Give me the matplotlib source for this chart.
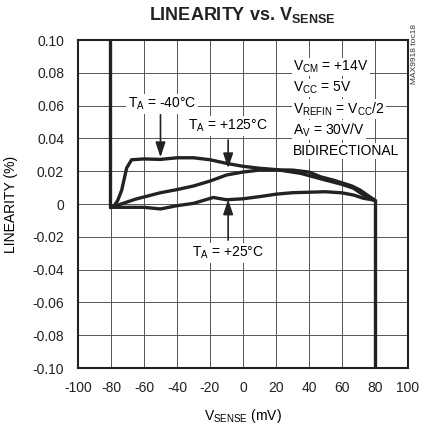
import numpy as np
import matplotlib
matplotlib.use("Agg")
import matplotlib.pyplot as plt

plt.rcParams['font.family'] = ['Liberation Sans', 'DejaVu Sans']
plt.rcParams['axes.unicode_minus'] = False

# curves (VSENSE in mV, linearity in %)
x_m40 = [-80, -78.8, -76, -73.5, -70.5, -67.5, -60, -50, -40, -30, -20, -10, 0, 10, 20, 35, 50, 60, 67, 73, 79, 80]
y_m40 = [-0.002, -0.002, 0.002, 0.0085, 0.022, 0.027, 0.0275, 0.0272, 0.0282, 0.0282, 0.027, 0.0248, 0.023, 0.0218, 0.021, 0.0187, 0.0146, 0.012, 0.0096, 0.0055, 0.0025, 0.002]

x_p125 = [-80, -78.6, -65, -50, -40, -30, -20, -10, 0, 10, 20, 30, 40, 47, 55, 61, 66, 71, 76, 79, 80]
y_p125 = [-0.002, -0.0016, 0.003, 0.0069, 0.0088, 0.011, 0.014, 0.0177, 0.0195, 0.0207, 0.0208, 0.0207, 0.0195, 0.0166, 0.0145, 0.0126, 0.011, 0.0085, 0.005, 0.003, 0.002]

# +25C curve also carries the saturated rails at both ends
x_p25 = [-80.3, -80.3, -78.6, -70, -60, -50, -40, -30, -18, -10, 0, 10, 20, 30, 40, 50, 60, 67, 73, 79, 80.3, 80.3]
y_p25 = [0.10, -0.002, -0.002, -0.002, -0.002, -0.003, -0.001, 0.0004, 0.004, 0.0026, 0.0032, 0.0045, 0.006, 0.0069, 0.0072, 0.0075, 0.0068, 0.0055, 0.0035, 0.0025, 0.002, -0.10]

x_ticks = list(range(-100, 101, 20))
y_ticks = [-0.10, -0.08, -0.06, -0.04, -0.02, 0, 0.02, 0.04, 0.06, 0.08, 0.10]
y_ticklabels = ['-0.10', '-0.08', '-0.06', '-0.04', '-0.02', '0', '0.02', '0.04', '0.06', '0.08', '0.10']

conditions = [
    r'V$_\mathregular{CM}$ = +14V',
    r'V$_\mathregular{CC}$ = 5V',
    r'V$_\mathregular{REFIN}$ = V$_\mathregular{CC}$/2',
    r'A$_\mathregular{V}$ = 30V/V',
    'BIDIRECTIONAL',
]

fig = plt.figure(figsize=(4.25, 4.33), dpi=100)
ax = fig.add_axes([0.1835, 0.150, 0.7765, 0.7576])

for xs, ys in [(x_p25, y_p25), (x_m40, y_m40), (x_p125, y_p125)]:
    ax.plot(xs, ys, color='#222222', linewidth=2.4, solid_joinstyle='round', zorder=3)

ax.set_xlim(-100, 100)
ax.set_ylim(-0.10, 0.10)
ax.set_xticks(x_ticks)
ax.set_yticks(y_ticks)
ax.set_yticklabels(y_ticklabels)
ax.tick_params(length=0, labelsize=10, colors='#222222')
ax.tick_params(axis='x', pad=9)
ax.tick_params(axis='y', pad=10)
ax.grid(color='#555555', linewidth=0.7)
for s in ax.spines.values():
    s.set_linewidth(1.5)
    s.set_color('#222222')

box = dict(facecolor='white', edgecolor='none', pad=1.5)
arrow = dict(arrowstyle='-|>,head_length=0.9,head_width=0.3', color='#222222', lw=1.2, shrinkA=0, shrinkB=0)

ax.text(-49, 0.061, r'T$_\mathregular{A}$ = -40°C', ha='center', va='center', fontsize=10, bbox=box, zorder=5)
ax.annotate('', xy=(-50, 0.0285), xytext=(-50, 0.0545), arrowprops=arrow, zorder=4)
ax.text(-9, 0.0475, r'T$_\mathregular{A}$ = +125°C', ha='center', va='center', fontsize=10, bbox=box, zorder=5)
ax.annotate('', xy=(-9, 0.0218), xytext=(-9, 0.039), arrowprops=arrow, zorder=4)
ax.text(-9, -0.0298, r'T$_\mathregular{A}$ = +25°C', ha='center', va='center', fontsize=10, bbox=box, zorder=5)
ax.annotate('', xy=(-9, 0.0028), xytext=(-9, -0.022), arrowprops=arrow, zorder=4)

for i, line in enumerate(conditions):
    ax.text(30.5, 0.0835 - i * 0.0128, line, ha='left', va='center', fontsize=10,
            bbox=dict(facecolor='white', edgecolor='none', pad=0.8), zorder=5)

fig.text(0.975, 0.875, 'MAX9918 toc18', rotation=90, ha='center', va='center', fontsize=6, color='#333333')

fig.text(0.57, 0.965, r'LINEARITY vs. V$_\mathregular{SENSE}$', ha='center', va='center',
         fontsize=13, fontweight='bold', color='#222222')
ax.set_xlabel(r'V$_\mathregular{SENSE}$ (mV)', fontsize=10, labelpad=9)
ax.set_ylabel('LINEARITY (%)', fontsize=10, labelpad=10)

fig.savefig('out.png', dpi=100)
